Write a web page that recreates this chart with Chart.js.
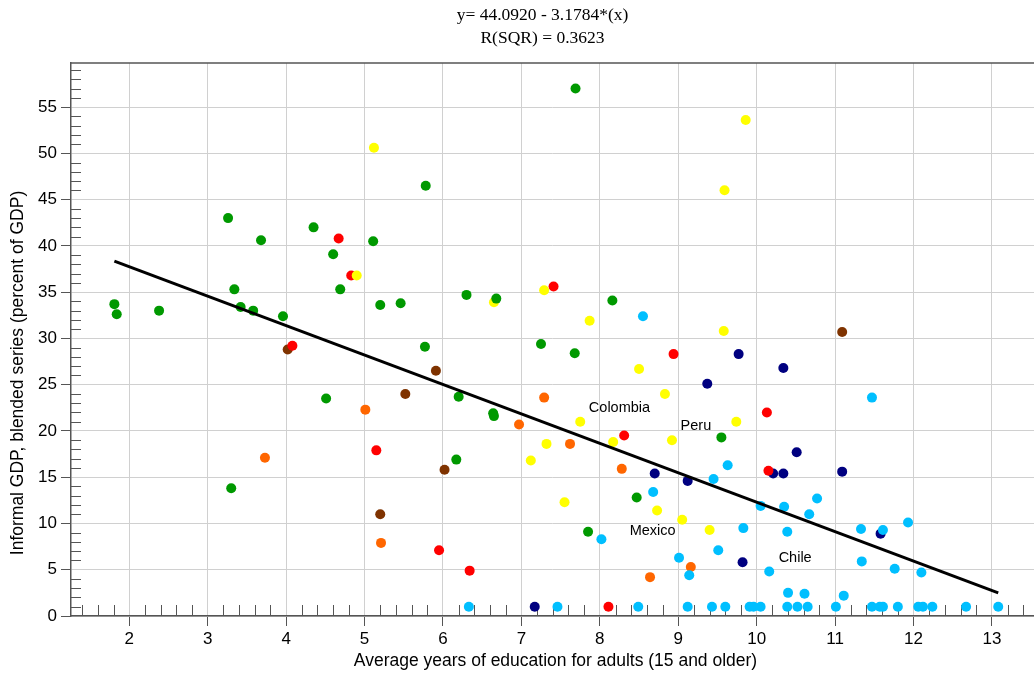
<!DOCTYPE html>
<html><head><meta charset="utf-8">
<script src="https://cdn.jsdelivr.net/npm/chart.js@4/dist/chart.umd.min.js"></script>
<style>html,body{margin:0;padding:0;background:#fff;overflow:hidden}#wrap{position:relative;width:1034px;height:674px}</style>
</head><body><div id="wrap"><canvas id="c" width="1034" height="674"></canvas></div>
<script>
// ---- data ----
const titleLines = ['y= 44.0920 - 3.1784*(x)', 'R(SQR) = 0.3623'];
const xTitle = 'Average years of education for adults (15 and older)';
const yTitle = 'Informal GDP, blended series (percent of GDP)';
const xTickValues = [2,3,4,5,6,7,8,9,10,11,12,13];
const yTickValues = [0,5,10,15,20,25,30,35,40,45,50,55];

const greenX = [1.81,1.84,2.38,3.26,3.30,3.34,3.42,3.58,3.68,3.96,4.35,4.51,4.60,4.69,5.11,5.20,5.46,5.77,5.78,6.17,6.20,6.30,6.64,6.65,6.68,7.25,7.68,7.69,7.85,8.16,8.47,9.55];
const greenY = [33.7,32.6,33.0,43.0,13.8,35.3,33.4,33.0,40.6,32.4,42.0,23.5,39.1,35.3,40.5,33.6,33.8,29.1,46.5,16.9,23.7,34.7,21.9,21.6,34.3,29.4,28.4,57.0,9.1,34.1,12.8,19.3];

const yellowX = [4.90,5.12,6.65,7.12,7.29,7.32,7.55,7.75,7.87,8.17,8.50,8.73,8.83,8.92,9.05,9.40,9.58,9.59,9.74,9.86];
const yellowY = [36.8,50.6,33.9,16.8,35.2,18.6,12.3,21.0,31.9,18.8,26.7,11.4,24.0,19.0,10.4,9.3,30.8,46.0,21.0,53.6];

const redX = [4.08,4.67,4.83,5.15,5.95,6.34,7.41,8.11,8.31,8.94,10.13,10.15];
const redY = [29.2,40.8,36.8,17.9,7.1,4.9,35.6,1.0,19.5,28.3,22.0,15.7];

const lightBlueX = [6.33,7.46,8.02,8.49,8.55,8.68,9.01,9.12,9.14,9.43,9.45,9.51,9.60,9.63,9.83,9.91,9.96,10.05,10.05,10.16,10.35,10.39,10.39,10.40,10.52,10.61,10.65,10.67,10.77,11.01,11.11,11.33,11.34,11.47,11.47,11.57,11.61,11.61,11.76,11.80,11.93,12.06,12.10,12.12,12.24,12.67,13.08];
const lightBlueY = [1.0,1.0,8.3,1.0,32.4,13.4,6.3,1.0,4.4,1.0,14.8,7.1,1.0,16.3,9.5,1.0,1.0,1.0,11.9,4.8,11.8,9.1,1.0,2.5,1.0,2.4,1.0,11.0,12.7,1.0,2.2,9.4,5.9,23.6,1.0,1.0,1.0,9.3,5.1,1.0,10.1,1.0,4.7,1.0,1.0,1.0,1.0];

const navyX = [7.17,8.70,9.12,9.37,9.77,9.82,10.21,10.34,10.34,10.51,11.09,11.58];
const navyY = [1.0,15.4,14.6,25.1,28.3,5.8,15.4,15.4,26.8,17.7,15.6,8.9];

const orangeX = [3.73,5.01,5.21,6.97,7.29,7.62,8.28,8.64,9.16];
const orangeY = [17.1,22.3,7.9,20.7,23.6,18.6,15.9,4.2,5.3];

const brownX = [4.02,5.20,5.52,5.91,6.02,11.09];
const brownY = [28.8,11.0,24.0,26.5,15.8,30.7];

const fitX = [1.81,13.08];
const fitY = [38.35,2.5];

const noteText = ['Colombia','Peru','Mexico','Chile'];
const noteX = [7.86,9.03,8.38,10.28];
const noteY = [22.5,20.5,9.2,6.3];

// ---- helpers ----
const pts = (xs, ys) => xs.map((x, i) => ({x, y: ys[i]}));
const dot = (label, xs, ys, color) => ({
  type: 'scatter', label, data: pts(xs, ys),
  backgroundColor: color, borderWidth: 0, pointRadius: 5, pointHoverRadius: 5
});

const AXIS = '#555555';
const GRID = '#d0d0d0';
const SANS = "'Liberation Sans', Arial, sans-serif";
const SERIF = "'Liberation Serif', 'Times New Roman', serif";

const extras = {
  id: 'extras',
  beforeDatasetsDraw(chart) {
    const {ctx, chartArea: a, scales: {x, y}} = chart;
    ctx.save();
    ctx.strokeStyle = AXIS;
    ctx.lineWidth = 1;
    // x minor ticks every 0.2, pointing up into the plot
    for (let k = Math.ceil(x.min * 5); k <= Math.floor(x.max * 5); k++) {
      if (k % 5 === 0) continue;
      const px = Math.round(x.getPixelForValue(k / 5)) + 0.5;
      ctx.beginPath(); ctx.moveTo(px, a.bottom); ctx.lineTo(px, a.bottom - 11); ctx.stroke();
    }
    // y minor ticks every 1, pointing right into the plot
    for (let v = Math.ceil(y.min); v <= Math.floor(y.max); v++) {
      if (v % 5 === 0) continue;
      const py = Math.round(y.getPixelForValue(v)) + 0.5;
      ctx.beginPath(); ctx.moveTo(a.left, py); ctx.lineTo(a.left + 10, py); ctx.stroke();
    }
    ctx.restore();
  },
  afterDraw(chart) {
    const {ctx, scales: {x, y}} = chart;
    ctx.save();
    ctx.fillStyle = '#000';
    // chart title
    ctx.font = '17.5px ' + SERIF;
    ctx.textAlign = 'center'; ctx.textBaseline = 'middle';
    ctx.fillText(titleLines[0], 542.5, 15);
    ctx.fillText(titleLines[1], 542.5, 38);
    // axis titles
    ctx.font = '17.5px ' + SANS;
    ctx.fillText(xTitle, 555.5, 661.5);
    ctx.save();
    ctx.translate(18, 373); ctx.rotate(-Math.PI / 2);
    ctx.fillText(yTitle, 0, 0);
    ctx.restore();
    // country notes
    ctx.font = '14.5px ' + SANS;
    ctx.textAlign = 'left';
    noteText.forEach((t, i) => ctx.fillText(t, x.getPixelForValue(noteX[i]), y.getPixelForValue(noteY[i])));
    ctx.restore();
  }
};

new Chart(document.getElementById('c'), {
  data: {
    datasets: [
      {type: 'line', label: 'fit', data: pts(fitX, fitY), borderColor: '#000', borderWidth: 3,
       pointRadius: 0, fill: false, tension: 0},
      dot('green', greenX, greenY, '#009900'),
      dot('yellow', yellowX, yellowY, '#ffff00'),
      dot('red', redX, redY, '#ff0000'),
      dot('lightblue', lightBlueX, lightBlueY, '#00bfff'),
      dot('navy', navyX, navyY, '#000080'),
      dot('orange', orangeX, orangeY, '#ff6600'),
      dot('brown', brownX, brownY, '#7f3300')
    ]
  },
  options: {
    responsive: false,
    animation: false,
    devicePixelRatio: 1,
    layout: {autoPadding: false, padding: {top: 63, left: 0, right: 0, bottom: 0}},
    plugins: {legend: {display: false}, tooltip: {enabled: false}, title: {display: false}},
    events: [],
    scales: {
      x: {
        type: 'linear', position: 'bottom', min: 1.257, max: 13.536,
        afterBuildTicks: s => { s.ticks = xTickValues.map(v => ({value: v})); },
        afterFit: s => { s.height = 58; s.paddingLeft = 0; s.paddingRight = 0; },
        grid: {color: GRID, lineWidth: 1, drawTicks: true, tickLength: 10, tickColor: AXIS},
        border: {display: true, color: AXIS, width: 1.5},
        ticks: {color: '#000', font: {family: SANS, size: 17}, padding: 3, maxRotation: 0, autoSkip: false}
      },
      y: {
        type: 'linear', position: 'left', min: 0, max: 59.76,
        afterBuildTicks: s => { s.ticks = yTickValues.map(v => ({value: v})); },
        afterFit: s => { s.width = 71; s.paddingTop = 0; s.paddingBottom = 0; },
        grid: {color: GRID, lineWidth: 1, drawTicks: true, tickLength: 10, tickColor: AXIS},
        border: {display: true, color: AXIS, width: 1.5},
        ticks: {color: '#000', font: {family: SANS, size: 17}, padding: 4, autoSkip: false}
      }
    }
  },
  plugins: [extras, {
    id: 'topBorder',
    afterDraw(chart) {
      const {ctx, chartArea: a} = chart;
      ctx.save(); ctx.strokeStyle = AXIS; ctx.lineWidth = 1.5;
      ctx.beginPath(); ctx.moveTo(a.left, a.top); ctx.lineTo(a.right, a.top); ctx.stroke();
      ctx.restore();
    }
  }]
});
</script></body></html>
